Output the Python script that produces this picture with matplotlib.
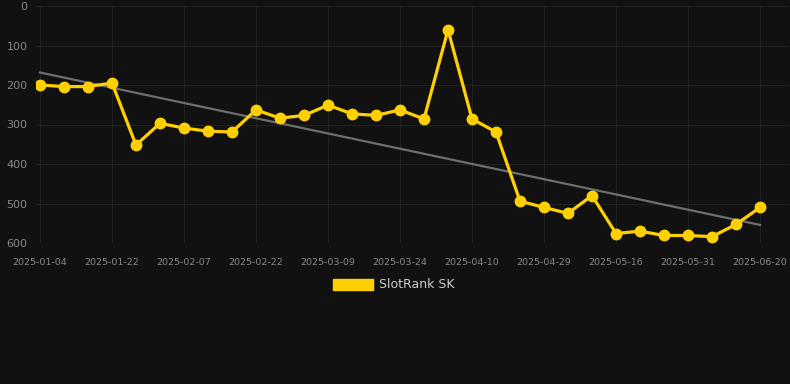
import numpy as np
import matplotlib.pyplot as plt

dates = ['2025-01-04', '2025-01-10', '2025-01-16', '2025-01-22', '2025-01-27', '2025-02-02',
         '2025-02-07', '2025-02-12', '2025-02-17', '2025-02-22', '2025-02-27', '2025-03-04',
         '2025-03-09', '2025-03-14', '2025-03-19', '2025-03-24', '2025-03-30', '2025-04-04',
         '2025-04-10', '2025-04-16', '2025-04-23', '2025-04-29', '2025-05-05', '2025-05-10',
         '2025-05-16', '2025-05-21', '2025-05-26', '2025-05-31', '2025-06-06', '2025-06-13',
         '2025-06-20']
rank = [200, 204, 204, 195, 352, 297, 309, 317, 319, 263, 284, 277, 251, 273, 277, 263,
        286, 60, 286, 319, 494, 510, 525, 480, 576, 570, 581, 581, 584, 553, 510]

bg = '#111111'
yellow = '#ffd000'

fig = plt.figure(figsize=(7.9, 3.84), dpi=100, facecolor=bg)
ax = fig.add_axes([36 / 790, 1 - 243 / 384, (788 - 36) / 790, (243 - 6) / 384])
ax.set_facecolor(bg)

x = np.arange(len(rank))
# trend line (least squares)
k, b = np.polyfit(x, rank, 1)
ax.plot(x, k * x + b, color='#6e6e6e', lw=1.6, zorder=2)
ax.plot(x, rank, color=yellow, lw=2.3, marker='o', ms=7.5, mec=yellow, mfc=yellow, zorder=3)

ax.set_xlim(-4 / 24, 30 + 28 / 24)
ax.set_ylim(600, 0)
ax.set_yticks([0, 100, 200, 300, 400, 500, 600])
ax.set_xticks(x[::3])
ax.set_xticklabels(dates[::3])
ax.grid(True, color='#222222', lw=0.8)
ax.set_axisbelow(True)
for s in ax.spines.values():
    s.set_visible(False)
ax.tick_params(axis='both', length=0, colors='#888888')
ax.tick_params(axis='y', labelsize=8, pad=6)
ax.tick_params(axis='x', labelsize=6.8, pad=11)

# legend
fig.patches.append(plt.Rectangle((333 / 790, 1 - 290 / 384), 40 / 790, 11 / 384,
                                 transform=fig.transFigure, color=yellow))
fig.text(379 / 790, 1 - 285 / 384, 'SlotRank SK', color='#cccccc', fontsize=9, va='center')

fig.savefig('out.png', dpi=100, facecolor=bg)
